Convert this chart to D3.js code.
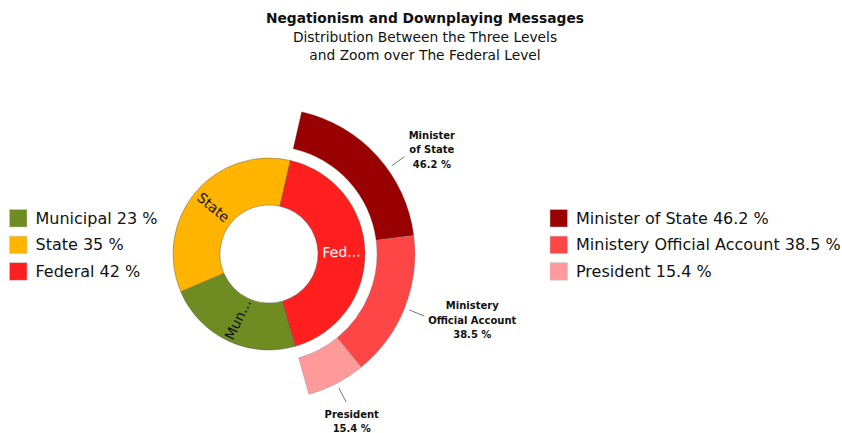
<!DOCTYPE html>
<html><head><meta charset="utf-8">
<script src="https://cdn.jsdelivr.net/npm/d3@7"></script>
<style>body{margin:0;background:#fff;} text{font-family:"DejaVu Sans",sans-serif;}</style>
</head><body><svg id="chart" width="842" height="433"></svg>
<script>
// ---- data ----
const titleLines = ["Negationism and Downplaying Messages", "Distribution Between the Three Levels", "and Zoom over The Federal Level"];
const levels = ["Municipal", "State", "Federal"];
const levelValues = [23, 35, 42];
const levelColors = ["#6f8c23", "#ffb400", "#ff1f1f"];
const federalParts = ["Minister of State", "Ministery Official Account", "President"];
const federalLabelLines = [["Minister", "of State"], ["Ministery", "Official Account"], ["President"]];
const federalValues = [46.2, 38.5, 15.4];
const federalColors = ["#990000", "#ff4646", "#ff9a9a"];

// ---- layout ----
const svg = d3.select("#chart");
const deg = Math.PI / 180;
const cx = 269, cy = 254;
const rIn = 49, rOut = 96, r2In = 108, r2Out = 146;
const labelNudge = [6.5 * deg, 0, 0];

svg.append("rect").attr("width", 842).attr("height", 433).attr("fill", "#fff");

// title
const tt = svg.append("text").attr("text-anchor", "middle").attr("fill", "#111");
titleLines.forEach((t, i) => {
  tt.append("tspan").attr("x", 425).attr("y", 23 + i * 18.5)
    .attr("font-size", 13.8).attr("font-weight", i === 0 ? "bold" : "normal").text(t);
});

const g = svg.append("g").attr("transform", `translate(${cx},${cy})`);

// inner pie
const total = d3.sum(levelValues);
const fedIdx = levels.indexOf("Federal");
const fedSpan = levelValues[fedIdx] / total * 2 * Math.PI;
const fedMid = 88.5 * deg;
const fedStart = fedMid - fedSpan / 2;
const innerStart = fedStart + fedSpan;
const innerArcs = d3.pie().sort(null).value(d => d)
  .startAngle(innerStart).endAngle(innerStart + 2 * Math.PI)(levelValues);
const arcInner = d3.arc().innerRadius(rIn).outerRadius(rOut);

g.selectAll("path.inner").data(innerArcs).join("path").attr("class", "inner")
  .attr("d", arcInner).attr("fill", (d, i) => levelColors[i])
  .attr("stroke", "#555").attr("stroke-width", 0.6).attr("stroke-opacity", 0.7);

// inner labels (radial, truncated)
const maxLen = (rOut - rIn) - 2;
innerArcs.forEach((d, i) => {
  const [x, y] = arcInner.centroid(d);
  const mid = (d.startAngle + d.endAngle) / 2;
  let rot = mid / deg - 90;
  rot = ((rot + 180) % 360 + 360) % 360 - 180;
  if (rot > 90) rot -= 180;
  if (rot < -90) rot += 180;
  const t = g.append("text").attr("transform", `translate(${x},${y}) rotate(${rot})`)
    .attr("text-anchor", "middle").attr("dy", "0.35em").attr("font-size", 14)
    .attr("fill", levels[i] === "Federal" ? "#fff" : "#111").text(levels[i]);
  let s = levels[i];
  if (t.node().getComputedTextLength() > maxLen) {
    let n = s.length - 1;
    t.text(s.slice(0, n) + "...");
    while (n > 1 && t.node().getComputedTextLength() > maxLen) { n--; t.text(s.slice(0, n) + "..."); }
  }
});

// outer federal ring
const fedArc = innerArcs[fedIdx];
const outerArcs = d3.pie().sort(null).value(d => d)
  .startAngle(fedArc.startAngle).endAngle(fedArc.endAngle)(federalValues);
const arcOuter = d3.arc().innerRadius(r2In).outerRadius(r2Out);
g.selectAll("path.outer").data(outerArcs).join("path").attr("class", "outer")
  .attr("d", arcOuter).attr("fill", (d, i) => federalColors[i])
  .attr("stroke", "#777").attr("stroke-width", 0.5).attr("stroke-opacity", 0.6);

// outer labels with leaders
const lh = 14.5;
outerArcs.forEach((d, i) => {
  const a = (d.startAngle + d.endAngle) / 2 + labelNudge[i];
  const sx = Math.sin(a), sy = -Math.cos(a);
  const r1 = 151, r2 = 167;
  const ex = sx * r2, ey = sy * r2;
  g.append("line").attr("x1", sx * r1).attr("y1", sy * r1).attr("x2", ex).attr("y2", ey)
    .attr("stroke", "#777").attr("stroke-width", 1);
  const lines = federalLabelLines[i].concat([federalValues[i] + " %"]);
  const t = g.append("text").attr("text-anchor", "middle").attr("font-size", 10)
    .attr("font-weight", "bold").attr("fill", "#111");
  lines.forEach((L, k) => t.append("tspan").attr("x", 0).attr("dy", k === 0 ? 0 : lh).text(L));
  const w = t.node().getBBox().width, h = lines.length * lh;
  let ox, oy;
  if (Math.abs(sx) >= Math.abs(sy)) { ox = Math.sign(sx) * (w / 2 + 4); oy = sy * 12; }
  else { ox = sx * 12; oy = Math.sign(sy) * (h / 2 + 5); }
  const ccx = ex + ox, ccy = ey + oy;
  const firstBase = ccy - (lines.length - 1) * lh / 2 + 3.5;
  t.attr("transform", `translate(${ccx},${firstBase})`);
});

// legends
function legend(x, names, values, colors) {
  const lg = svg.append("g");
  names.forEach((n, i) => {
    const yc = 218.5 + i * 26.6;
    lg.append("rect").attr("x", x).attr("y", yc - 9).attr("width", 17.5).attr("height", 17.5)
      .attr("fill", colors[i]).attr("stroke", "#ccc").attr("stroke-width", 0.5);
    lg.append("text").attr("x", x + 26).attr("y", yc + 5.2).attr("font-size", 16)
      .attr("fill", "#111").text(`${n} ${values[i]} %`);
  });
}
legend(9.5, levels, levelValues, levelColors);
legend(550, federalParts, federalValues, federalColors);
</script></body></html>
